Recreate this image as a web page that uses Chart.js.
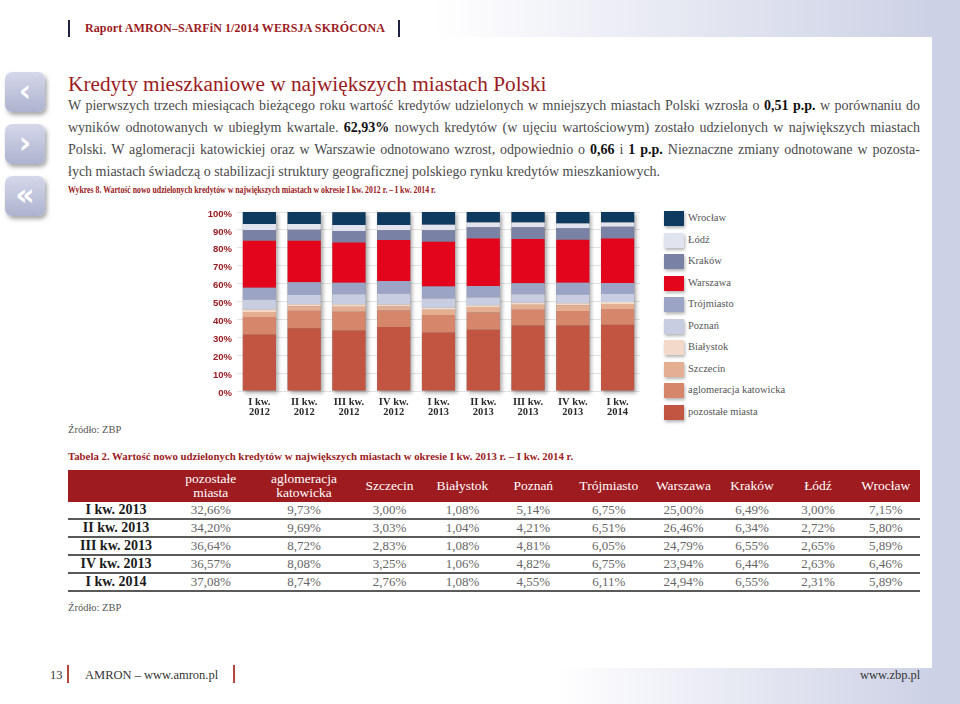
<!DOCTYPE html>
<html lang="pl">
<head>
<meta charset="utf-8">
<title>Kredyty mieszkaniowe w największych miastach Polski</title>
<script src="https://cdn.jsdelivr.net/npm/chart.js@4.4.1/dist/chart.umd.min.js"></script>
<style>
  html, body { margin: 0; padding: 0; }
  body {
    width: 960px; height: 704px; position: relative; overflow: hidden;
    background: #fff; font-family: "Liberation Serif", serif; color: #444;
  }
  .band-top { position: absolute; left: 0; top: 0; width: 960px; height: 37px;
    background: linear-gradient(to right, #fff 45%, #cdd1e5 97%); }
  .band-right { position: absolute; left: 932px; top: 0; width: 28px; height: 704px; background: #cdd1e5; }
  .band-bottom { position: absolute; left: 0; top: 668px; width: 960px; height: 36px;
    background: linear-gradient(to right, #fff 58%, #cdd1e5 97%); }
  .vbar { position: absolute; width: 2px; height: 17px; background: #1e2142; }
  .header { position: absolute; left: 85px; top: 21px; font-size: 12px; font-weight: bold; color: #9b1b22; letter-spacing: 0.1px; }
  .nav { position: absolute; left: 5px; width: 40px; height: 40px; border-radius: 7px;
    background: linear-gradient(#d5d8ea, #adb2cf); box-shadow: 2px 3px 4px rgba(0,0,0,0.35);
    color: #fff; font: bold 30px "DejaVu Sans", sans-serif; text-align: center; line-height: 38px; }
  h1 { position: absolute; left: 68px; top: 72px; margin: 0; font-weight: normal; font-size: 21.3px; color: #9b1b22; }
  .para { position: absolute; left: 68px; top: 95px; width: 852px; font-size: 14px; line-height: 22px; color: #4a4a4a; }
  .para div { text-align: justify; text-align-last: justify; white-space: nowrap; }
  .para div.last { text-align-last: left; }
  .para b { color: #111; }
  .caption { position: absolute; left: 68px; font-size: 10.5px; font-weight: bold; color: #9b1b22;
    transform-origin: left; white-space: nowrap; }
  .source { position: absolute; left: 68px; font-size: 10.5px; color: #555; }
  #chartBox { position: absolute; left: 195px; top: 200px; width: 445px; height: 230px; }
  #legend { position: absolute; left: 664px; top: 211px; }
  .lg { position: relative; height: 21.5px; }
  .lg span.sw { position: absolute; left: 0; top: 0; width: 20px; height: 15px; box-shadow: 1px 2px 3px rgba(0,0,0,0.3); }
  .lg span.tx { position: absolute; left: 24px; top: 1px; font-size: 10.5px; color: #555; white-space: nowrap; }
  table { position: absolute; left: 68px; top: 470px; width: 852px; border-collapse: collapse; table-layout: fixed; }
  th { background: #9e1b20; color: #fff; font-weight: normal; font-size: 13.5px; height: 32px; line-height: 14px; padding: 0; }
  td { text-align: center; font-size: 13px; color: #666; height: 16px; padding: 0; border-bottom: 2px solid #5a5a5a; line-height: 16px; }
  td.rl { font-weight: bold; color: #1a1a1a; font-size: 14px; }
  .footer { position: absolute; top: 668px; font-size: 12.5px; color: #333; }
  .rbar { position: absolute; top: 665px; width: 2px; height: 18px; background: #b5463e; }
</style>
</head>
<body>
<div class="band-top"></div>
<div class="band-right"></div>
<div class="band-bottom"></div>

<div class="vbar" style="left:68px;top:20px"></div>
<div class="header">Raport AMRON–SARFiN 1/2014 WERSJA SKRÓCONA</div>
<div class="vbar" style="left:398px;top:20px"></div>

<div class="nav" style="top:72px">‹</div>
<div class="nav" style="top:124px">›</div>
<div class="nav" style="top:176px">«</div>

<h1>Kredyty mieszkaniowe w największych miastach Polski</h1>
<div class="para">
  <div>W pierwszych trzech miesiącach bieżącego roku wartość kredytów udzielonych w mniejszych miastach Polski wzrosła o <b>0,51 p.p.</b> w porównaniu do</div>
  <div>wyników odnotowanych w ubiegłym kwartale. <b>62,93%</b> nowych kredytów (w ujęciu wartościowym) zostało udzielonych w największych miastach</div>
  <div>Polski. W aglomeracji katowickiej oraz w Warszawie odnotowano wzrost, odpowiednio o <b>0,66</b> i <b>1 p.p.</b> Nieznaczne zmiany odnotowane w pozosta-</div>
  <div class="last">łych miastach świadczą o stabilizacji struktury geograficznej polskiego rynku kredytów mieszkaniowych.</div>
</div>

<div class="caption" style="top:185px;font-size:9.5px;transform:scaleX(0.82)">Wykres 8. Wartość nowo udzielonych kredytów w największych miastach w okresie I kw. 2012 r. – I kw. 2014 r.</div>
<div id="chartBox"><canvas id="chart"></canvas></div>
<div id="legend"></div>
<div class="source" style="top:424px">Źródło: ZBP</div>

<div class="caption" style="top:450px;font-size:10.8px">Tabela 2. Wartość nowo udzielonych kredytów w największych miastach w okresie I kw. 2013 r. – I kw. 2014 r.</div>
<table id="tbl"></table>
<div class="source" style="top:602px">Źródło: ZBP</div>

<div class="footer" style="left:50px">13</div>
<div class="rbar" style="left:67px"></div>
<div class="footer" style="left:85px">AMRON – www.amron.pl</div>
<div class="rbar" style="left:233px"></div>
<div class="footer" style="left:860px">www.zbp.pl</div>

<script>
// quarters (two-line labels)
const quarters = [
    ["I kw.", "2012"], ["II kw.", "2012"], ["III kw.", "2012"], ["IV kw.", "2012"],
    ["I kw.", "2013"], ["II kw.", "2013"], ["III kw.", "2013"], ["IV kw.", "2013"],
    ["I kw.", "2014"]
];
const tableRowLabels = ["I kw. 2013", "II kw. 2013", "III kw. 2013", "IV kw. 2013", "I kw. 2014"];

// shares in %, 2012, 2013-2014 from Tabela 2
const pozostale   = [31.6, 35.0, 33.8, 35.7, 32.66, 34.20, 36.64, 36.57, 37.08];
const aglomeracja = [9.7, 9.9, 10.5, 9.3, 9.73, 9.69, 8.72, 8.08, 8.74];
const szczecin    = [2.8, 2.4, 2.8, 2.2, 3.00, 3.03, 2.83, 3.25, 2.76];
const bialystok   = [1.5, 1.1, 1.3, 1.1, 1.08, 1.04, 1.08, 1.06, 1.08];
const poznan      = [5.4, 5.2, 5.6, 6.0, 5.14, 4.21, 4.81, 4.82, 4.55];
const trojmiasto  = [6.7, 7.1, 6.5, 7.1, 6.75, 6.51, 6.05, 6.75, 6.11];
const warszawa    = [26.2, 23.2, 22.4, 23.0, 25.00, 26.46, 24.79, 23.94, 24.94];
const krakow      = [6.0, 6.2, 6.5, 5.4, 6.49, 6.34, 6.55, 6.44, 6.55];
const lodz        = [3.4, 3.2, 3.4, 3.0, 3.00, 2.72, 2.65, 2.63, 2.31];
const wroclaw     = [6.7, 6.7, 7.1, 7.1, 7.15, 5.80, 5.89, 6.46, 5.89];

const yTicks = [0, 10, 20, 30, 40, 50, 60, 70, 80, 90, 100];

// bottom-up stacking order
const series = [
    { label: "pozostałe miasta", head: "pozostałe<br>miasta", data: pozostale, color: "#c25442" },
    { label: "aglomeracja katowicka", head: "aglomeracja<br>katowicka", data: aglomeracja, color: "#d6876b" },
    { label: "Szczecin", head: "Szczecin", data: szczecin, color: "#e4ae93" },
    { label: "Białystok", head: "Białystok", data: bialystok, color: "#f3d9c9" },
    { label: "Poznań", head: "Poznań", data: poznan, color: "#c9cde1" },
    { label: "Trójmiasto", head: "Trójmiasto", data: trojmiasto, color: "#9ba4c4" },
    { label: "Warszawa", head: "Warszawa", data: warszawa, color: "#e3051b" },
    { label: "Kraków", head: "Kraków", data: krakow, color: "#7981a5" },
    { label: "Łódź", head: "Łódź", data: lodz, color: "#e1e3ef" },
    { label: "Wrocław", head: "Wrocław", data: wroclaw, color: "#0f3a5f" }
];

// shadow behind each whole stacked bar
const barShadow = {
    id: "barShadow",
    beforeDatasetsDraw(chart) {
        const ctx = chart.ctx;
        const first = chart.getDatasetMeta(0).data;
        const last = chart.getDatasetMeta(series.length - 1).data;
        ctx.save();
        ctx.shadowColor = "rgba(0,0,0,0.35)";
        ctx.shadowBlur = 4;
        ctx.shadowOffsetX = 2;
        ctx.shadowOffsetY = 2;
        ctx.fillStyle = "#888";
        first.forEach((el, i) => {
            const b = el.getProps(["x", "base", "width"], true);
            const top = last[i].getProps(["y"], true).y;
            ctx.fillRect(b.x - b.width / 2, top, b.width, b.base - top);
        });
        ctx.restore();
    }
};

const chart = new Chart(document.getElementById("chart"), {
    type: "bar",
    data: {
        labels: quarters,
        datasets: series.map(s => ({
            label: s.label,
            data: s.data,
            backgroundColor: s.color,
            borderWidth: 0,
            barPercentage: 0.74,
            categoryPercentage: 1.0
        }))
    },
    options: {
        responsive: true,
        maintainAspectRatio: false,
        animation: false,
        layout: { padding: { top: 12, right: 0, bottom: 0, left: 0 } },
        plugins: { legend: { display: false }, tooltip: { enabled: false } },
        scales: {
            x: {
                stacked: true,
                grid: { display: false, drawTicks: false },
                border: { display: false },
                ticks: {
                    color: "#2a2a2a", padding: 6,
                    font: { family: "Liberation Serif", size: 10.5, weight: "bold", lineHeight: 0.95 }
                },
                afterFit(scale) { scale.height = 39; }
            },
            y: {
                stacked: true,
                min: 0, max: 100,
                afterBuildTicks(scale) { scale.ticks = yTicks.map(v => ({ value: v })); },
                grid: { color: "#e3e3e3", lineWidth: 1, drawTicks: false },
                border: { display: false },
                ticks: {
                    color: "#9b1b22", padding: 5, labelOffset: 2,
                    font: { family: "Liberation Sans", size: 9.5, weight: "bold" },
                    callback: v => v + "%"
                },
                afterFit(scale) { scale.width = 42; }
            }
        }
    },
    plugins: [barShadow]
});

// legend, top item is the top of the stack
const legend = document.getElementById("legend");
series.slice().reverse().forEach(s => {
    const row = document.createElement("div");
    row.className = "lg";
    row.innerHTML = `<span class="sw" style="background:${s.color}"></span><span class="tx">${s.label}</span>`;
    legend.appendChild(row);
});

// Tabela 2 built from the same arrays (last five quarters)
const colWidths = [96, 93.5, 93, 78, 68, 73.5, 77.5, 72, 65, 67, 68.5];
const fmt = v => v.toFixed(2).replace(".", ",") + "%";
const tbl = document.getElementById("tbl");
let html = "<colgroup>" + colWidths.map(w => `<col style="width:${w}px">`).join("") + "</colgroup>";
html += "<tr><th></th>" + series.map(s => `<th>${s.head}</th>`).join("") + "</tr>";
tableRowLabels.forEach((lab, r) => {
    const i = quarters.length - tableRowLabels.length + r;
    html += `<tr><td class="rl">${lab}</td>` + series.map(s => `<td>${fmt(s.data[i])}</td>`).join("") + "</tr>";
});
tbl.innerHTML = html;
</script>
</body>
</html>
